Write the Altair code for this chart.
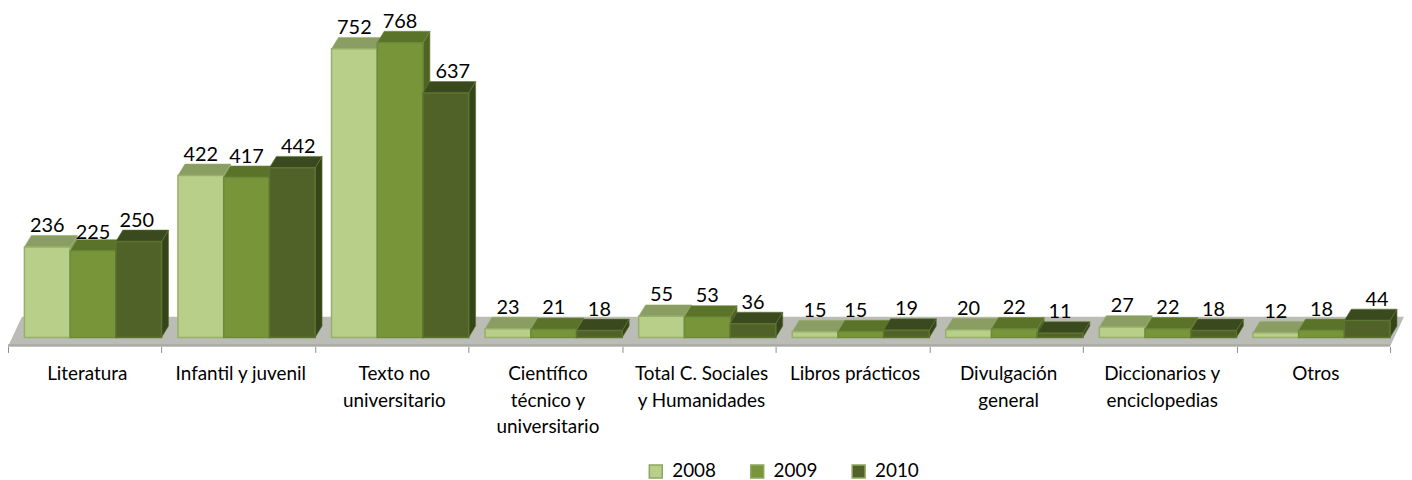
import altair as alt
import pandas as pd

categories = ["Literatura", "Infantil y juvenil", "Texto no\nuniversitario",
              "Científico\ntécnico y\nuniversitario", "Total C. Sociales\ny Humanidades",
              "Libros prácticos", "Divulgación\ngeneral", "Diccionarios y\nenciclopedias", "Otros"]
years = ["2008", "2009", "2010"]
v2008 = [236, 422, 752, 23, 55, 15, 20, 27, 12]
v2009 = [225, 417, 768, 21, 53, 15, 22, 22, 18]
v2010 = [250, 442, 637, 18, 36, 19, 11, 18, 44]
series = dict(zip(years, [v2008, v2009, v2010]))

front = dict(zip(years, ["#B8CF8A", "#789639", "#506228"]))
edge = dict(zip(years, ["#96B06A", "#6C8A3C", "#5C7430"]))
topc = dict(zip(years, ["#8A9D62", "#5B7229", "#3B4A1E"]))
sidec = dict(zip(years, ["#8A9D62", "#4F6325", "#36441A"]))

PX_X = 154.44            # pixels per category
PX_Y = 0.386             # pixels per unit
W, H = 1404, 339
GAP = 16.5 / PX_X        # front offset of the bars inside a category
BW = (1 - GAP) / 3
DX = 7 / PX_X            # 3-D depth
DY = 11.5 / PX_Y
LABEL_DY = -21
# small label shifts seen in the reference: (series, category): (dx px, dy px)
NUDGE = {("2010", 0): (-2, 0), ("2010", 1): (6, 0), ("2010", 2): (7, 0), ("2010", 8): (10, 0),
         ("2009", 5): (-5, 0), ("2009", 0): (0, 3)}

n = len(categories)
x_scale = alt.Scale(domain=[0, W / PX_X], range=[0, W], nice=False, zero=False)
y_scale = alt.Scale(domain=[-9 / PX_Y, 330 / PX_Y], range=[H, 0], nice=False, zero=False)
x_axis = alt.Axis(values=list(range(n + 1)), labels=False, title=None, grid=False, domain=False,
                  tickSize=6, tickColor="#8C8C8C", tickWidth=1)
X = lambda f="x": alt.X(f"{f}:Q", scale=x_scale, axis=x_axis)
Y = lambda f="y": alt.Y(f"{f}:Q", scale=y_scale, axis=None)

# floor
floor_back, floor_front = 54.0, -23.3
band_top = -18.0
fd = 14 / PX_X
floor = pd.DataFrame({"x": [0, fd, n, n + fd],
                      "y": [floor_front, floor_back, floor_back, floor_back],
                      "y2": [floor_front, floor_front, floor_front, floor_back]})
floor_layer = alt.Chart(floor).mark_area(color="#BCBCB6").encode(X(), Y(), y2="y2:Q")
band = pd.DataFrame({"x": [0, n], "y": [band_top, band_top], "y2": [floor_front, floor_front]})
band_layer = alt.Chart(band).mark_area(color="#A9A9A5").encode(X(), Y(), y2="y2:Q")

layers = [floor_layer, band_layer]
for yi, yr in enumerate(years):
    tops, sides, fronts = [], [], []
    for i, v in enumerate(series[yr]):
        x0 = i + GAP + yi * BW
        x1 = x0 + BW
        tops += [dict(b=i, x=x0, y=v, y2=v), dict(b=i, x=x0 + DX, y=v + DY, y2=v),
                 dict(b=i, x=x1, y=v + DY, y2=v), dict(b=i, x=x1 + DX, y=v + DY, y2=v + DY)]
        sides += [dict(b=i, x=x1, y=v, y2=0), dict(b=i, x=x1 + DX, y=v + DY, y2=DY)]
        fronts.append(dict(x=x0, x2=x1, y=v, y0=0, year=yr))
    layers.append(alt.Chart(pd.DataFrame(sides)).mark_area(color=sidec[yr], stroke=edge[yr], strokeWidth=0.6)
                  .encode(X(), Y(), y2="y2:Q", detail="b:N"))
    layers.append(alt.Chart(pd.DataFrame(tops)).mark_area(color=topc[yr], stroke=edge[yr], strokeWidth=0.6)
                  .encode(X(), Y(), y2="y2:Q", detail="b:N"))
    layers.append(alt.Chart(pd.DataFrame(fronts)).mark_rect(strokeWidth=1.5, stroke=edge[yr]).encode(
        X(), x2="x2:Q", y=Y(), y2="y0:Q",
        color=alt.Color("year:N", scale=alt.Scale(domain=years, range=[front[y] for y in years]),
                        legend=alt.Legend(title=None, orient="none", direction="horizontal",
                                          legendX=642, legendY=455, symbolType="square",
                                          symbolSize=170, symbolStrokeWidth=1.5,
                                          symbolStrokeColor="#8CA85E",
                                          labelFont="Lato", labelFontSize=19, labelColor="#000000",
                                          columnPadding=30, labelOffset=7, padding=0))))

labels = []
for yi, yr in enumerate(years):
    for i, v in enumerate(series[yr]):
        ndx, ndy = NUDGE.get((yr, i), (0, 0))
        labels.append(dict(x=i + GAP + yi * BW + BW / 2 + ndx / PX_X, y=v - ndy / PX_Y, t=str(v)))
label_layer = alt.Chart(pd.DataFrame(labels)).mark_text(
    font="Lato", fontSize=20, color="#000000", dy=LABEL_DY, baseline="middle").encode(X(), Y(), text="t:N")

cat_df = pd.DataFrame({"x": [i + 0.5 + 2.5 / PX_X for i in range(n)], "t": categories})
cat_df["y"] = (330 - 367) / PX_Y
cat_layer = alt.Chart(cat_df).mark_text(
    font="Lato", fontSize=19, color="#000000", lineBreak="\n", lineHeight=26.5,
    baseline="middle", align="center").encode(X(), Y(), text="t:N")
layers += [label_layer, cat_layer]

chart = alt.layer(*layers).properties(
    width=W, height=H,
    autosize=alt.AutoSizeParams(type="none"),
    padding={"left": 0, "top": 0, "right": 0, "bottom": 133},
).configure(background="#FFFFFF", view=alt.ViewConfig(stroke=None))
chart.save("out.html", embed_options={"renderer": "svg", "actions": False})
